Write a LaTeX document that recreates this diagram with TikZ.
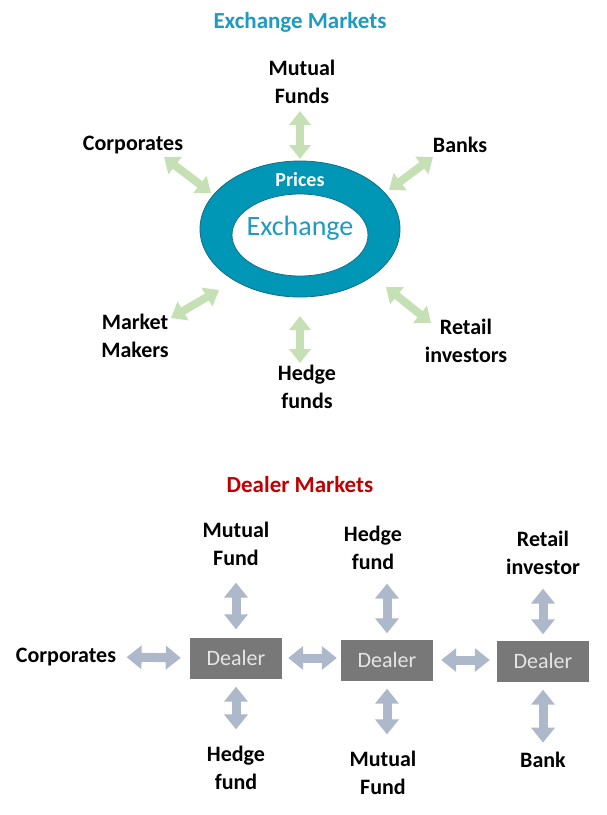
\documentclass[tikz,border=0pt]{standalone}
\usepackage{fontspec}
\setmainfont{Carlito}
\usetikzlibrary{arrows.meta}
\definecolor{ringblue}{RGB}{0,150,182}
\definecolor{ringedge}{RGB}{20,110,135}
\definecolor{titleblue}{RGB}{30,155,195}
\definecolor{titlered}{RGB}{192,0,0}
\definecolor{greenarr}{RGB}{197,224,180}
\definecolor{grayarr}{RGB}{173,185,202}
\definecolor{dealergray}{RGB}{120,120,120}

\begin{document}
\begin{tikzpicture}[x=1pt,y=-1pt,
  lbl/.style={font=\fontsize{22}{28.5}\selectfont\bfseries, align=center},
  ttl/.style={font=\fontsize{23}{28}\selectfont\bfseries},
  garrow/.style={draw=greenarr, line width=8pt, {Triangle[length=14pt,width=21pt]}-{Triangle[length=14pt,width=21pt]}},
  barrow/.style={draw=grayarr, line width=9pt, {Triangle[length=15pt,width=23pt]}-{Triangle[length=15pt,width=23pt]}},
  dealer/.style={fill=dealergray, text=white!90!black, minimum width=92pt, minimum height=41pt, font=\fontsize{22}{24}\selectfont}]
\useasboundingbox (0,0) rectangle (606,815);

% exchange markets
\node [ttl, text=titleblue] (T1) at (300,22) {Exchange Markets};
\fill [ringblue, draw=ringedge, line width=0.8pt] (300,229) ellipse [x radius=100, y radius=68];
\fill [white, draw=ringedge, line width=0.8pt] (300,235) ellipse [x radius=68, y radius=41];
\node [font=\fontsize{20}{24}\selectfont\bfseries, text=white] (P) at (300,180) {Prices};
\node [font=\fontsize{28}{30}\selectfont, text=titleblue] (X) at (300,228) {Exchange};

\node [lbl] (MF) at (302,82) {Mutual\\Funds};
\node [lbl] (CO) at (133,145) {Corporates};
\node [lbl] (BA) at (460,145) {Banks};
\node [lbl] (MM) at (135,336) {Market\\Makers};
\node [lbl] (HF) at (307,387) {Hedge\\funds};
\node [lbl] (RI) at (466,341) {Retail\\investors};

\coordinate (MFa) at (300,111);
\coordinate (MFb) at (300,159);
\coordinate (COa) at (164,157);
\coordinate (COb) at (211,193);
\coordinate (BAa) at (433,157);
\coordinate (BAb) at (389,190);
\coordinate (MMa) at (171,318);
\coordinate (MMb) at (219,290);
\coordinate (HFa) at (300,316);
\coordinate (HFb) at (300,363);
\coordinate (RIa) at (386,287);
\coordinate (RIb) at (431,323);

\draw [garrow] (MFa) -- (MFb);
\draw [garrow] (COa) -- (COb);
\draw [garrow] (BAa) -- (BAb);
\draw [garrow] (MMa) -- (MMb);
\draw [garrow] (HFa) -- (HFb);
\draw [garrow] (RIa) -- (RIb);

% dealer markets
\node [ttl, text=titlered] (T2) at (300,485) {Dealer Markets};
\node [dealer] (D1) at (236,658) {Dealer};
\node [dealer] (D2) at (387,660) {Dealer};
\node [dealer] (D3) at (543,661) {Dealer};

\node [lbl] (C2) at (66,657) {Corporates};
\node [lbl] (MF1) at (236,544) {Mutual\\Fund};
\node [lbl] (HF1) at (236,768) {Hedge\\fund};
\node [lbl] (HF2) at (373,548) {Hedge\\fund};
\node [lbl] (MF2) at (383,773) {Mutual\\Fund};
\node [lbl] (RI2) at (543,553) {Retail\\investor};
\node [lbl] (BK) at (543,760) {Bank};

\draw [barrow, shorten <=7pt, shorten >=9pt] (C2.east) -- (D1.west);
\draw [barrow, shorten <=6pt, shorten >=4pt] (D1.east) -- (D1.east -| D2.west);
\draw [barrow, shorten <=8pt, shorten >=7pt] (D2.east) -- (D2.east -| D3.west);

\draw [barrow, shorten <=13pt, shorten >=8pt] (MF1.south) -- (D1.north);
\draw [barrow, shorten <=8pt, shorten >=13pt] (D1.south) -- (HF1.north);
\draw [barrow, shorten <=10pt, shorten >=6pt] (HF2.south -| D2.north) -- (D2.north);
\draw [barrow, shorten <=8pt, shorten >=13pt] (D2.south) -- (D2.south |- MF2.north);
\draw [barrow, shorten <=10pt, shorten >=6pt] (RI2.south) -- (D3.north);
\draw [barrow, shorten <=8pt, shorten >=6pt] (D3.south) -- (BK.north);
\end{tikzpicture}
\end{document}
